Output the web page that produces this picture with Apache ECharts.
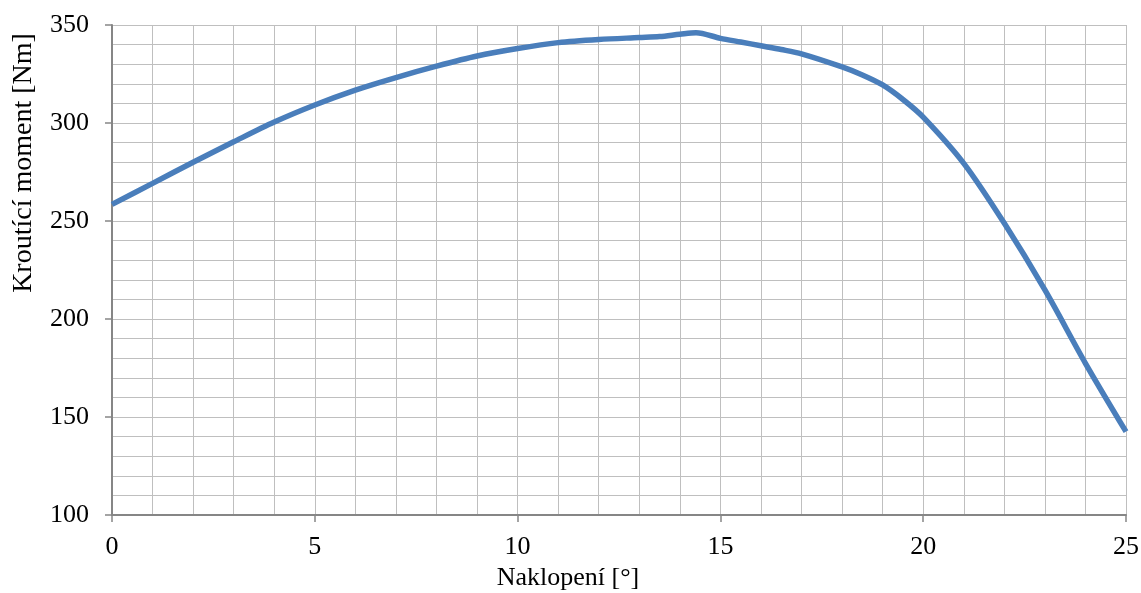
<!DOCTYPE html>
<html>
<head>
<meta charset="utf-8">
<script src="https://cdn.jsdelivr.net/npm/echarts@6/dist/echarts.min.js"></script>
<style>
  html, body { margin: 0; padding: 0; background: #fff; }
  #chart { width: 1141px; height: 593px; }
</style>
</head>
<body>
<div id="chart"></div>
<script>
// naklopení [°] a krouticí moment [Nm]
const angles = [0, 1, 2, 3, 4, 5, 6, 7, 8, 9, 10, 11, 12, 13, 13.5, 14, 14.4, 15, 15.5, 16, 16.5, 17, 18, 18.5, 19, 19.5, 20, 21, 22, 23, 24, 25];
const torque = [258.5, 269.2, 280, 290.4, 300.5, 309.2, 316.8, 323.2, 329, 334.2, 338, 341, 342.6, 343.6, 344.1, 345.3, 346.1, 343.2, 341.3, 339.4, 337.5, 335.3, 328.6, 324.5, 319.4, 312, 303, 279.4, 248.8, 214.8, 177.4, 142.5];
const xTicks = [0, 5, 10, 15, 20, 25];
const yTicks = [100, 150, 200, 250, 300, 350];

const fontFamily = '"Liberation Serif", "DejaVu Serif", serif';
const gridColor = '#bfbfbf';
const axisColor = '#868686';

let chart = echarts.init(document.getElementById('chart'));

let option = {
    animation: false,
    grid: {
        left: 112,
        right: 15,
        top: 25,
        bottom: 78,
        containLabel: false,
        outerBoundsMode: 'none'
    },
    xAxis: {
        type: 'value',
        min: xTicks[0],
        max: xTicks[xTicks.length - 1],
        interval: 5,
        name: 'Naklopení [°]',
        nameLocation: 'middle',
        nameGap: 49,
        nameTextStyle: {
            fontFamily: fontFamily,
            fontSize: 26,
            color: '#000',
            padding: [0, 102, 0, 0]
        },
        axisLine: { lineStyle: { color: axisColor, width: 2 } },
        axisTick: { show: true, length: 7, lineStyle: { color: axisColor, width: 1.5 } },
        axisLabel: { fontFamily: fontFamily, fontSize: 26, color: '#000', margin: 19 },
        splitLine: { show: true, lineStyle: { color: gridColor, width: 1 } },
        minorTick: { show: false, splitNumber: 5 },
        minorSplitLine: { show: true, lineStyle: { color: gridColor, width: 1 } }
    },
    yAxis: {
        type: 'value',
        min: yTicks[0],
        max: yTicks[yTicks.length - 1],
        interval: 50,
        name: 'Kroutící moment [Nm]',
        nameLocation: 'middle',
        nameGap: 74,
        nameTextStyle: {
            fontFamily: fontFamily,
            fontSize: 28,
            color: '#000',
            padding: [0, 0, 0, 214]
        },
        axisLine: { show: true, lineStyle: { color: axisColor, width: 2 } },
        axisTick: { show: true, length: 7, lineStyle: { color: axisColor, width: 1.5 } },
        axisLabel: { fontFamily: fontFamily, fontSize: 26, color: '#000', margin: 23 },
        splitLine: { show: true, lineStyle: { color: gridColor, width: 1 } },
        minorTick: { show: false, splitNumber: 5 },
        minorSplitLine: { show: true, lineStyle: { color: gridColor, width: 1 } }
    },
    series: [
        {
            type: 'line',
            data: angles.map((a, i) => [a, torque[i]]),
            smooth: 0.3,
            showSymbol: false,
            symbol: 'none',
            lineStyle: { color: '#4a7ebb', width: 5.5 },
            z: 5
        }
    ]
};

chart.setOption(option);
</script>
</body>
</html>
